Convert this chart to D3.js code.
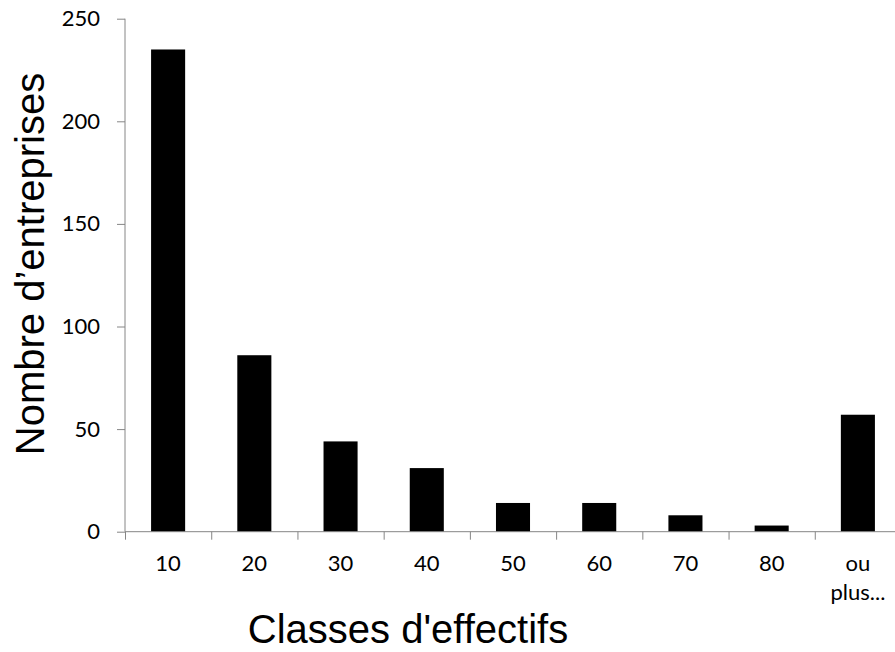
<!DOCTYPE html>
<html>
<head>
<meta charset="utf-8">
<script src="https://cdn.jsdelivr.net/npm/d3@7"></script>
<style>
  html, body { margin: 0; padding: 0; background: #fff; }
  svg { display: block; }
</style>
</head>
<body>
<svg id="chart" width="895" height="652"></svg>
<script>
const categories = ["10", "20", "30", "40", "50", "60", "70", "80", "ou plus..."];
const values = [235, 86, 44, 31, 14, 14, 8, 3, 57];
const yTicks = [0, 50, 100, 150, 200, 250];
const xTitle = "Classes d'effectifs";
const yTitle = "Nombre d\u2019entreprises";

(function () {
const svg = d3.select("#chart");
const mLeft = 125, mRight = 901, mTop = 18.7, mBottom = 531.7;
const axisColor = "#868686";
const tickFont = "Lato, 'Open Sans', sans-serif";

const p = 0.605;
const x = d3.scaleBand().domain(categories).range([mLeft, mRight]).paddingInner(p).paddingOuter(p / 2);
const xb = d3.scaleLinear().domain([0, categories.length]).range([mLeft, mRight]);
const y = d3.scaleLinear().domain([0, 250]).range([mBottom, mTop]);

// bars
svg.append("g").selectAll("rect").data(values).join("rect")
  .attr("x", (d, i) => x(categories[i]))
  .attr("width", x.bandwidth())
  .attr("y", d => y(d))
  .attr("height", d => y(0) - y(d))
  .attr("fill", "#000");

// y axis
const yAxis = svg.append("g").attr("transform", `translate(${mLeft},0)`)
  .call(d3.axisLeft(y).tickValues(yTicks).tickSize(8).tickPadding(17).tickFormat(d3.format("d")));
yAxis.select(".domain").attr("stroke", axisColor).attr("d", `M0,${mTop}V${mBottom}`);
yAxis.selectAll(".tick line").attr("stroke", axisColor);
yAxis.selectAll(".tick text").attr("font-family", tickFont).attr("font-size", 22).attr("fill", "#000");

// x axis ticks at band boundaries
const xAxisTicks = svg.append("g").attr("transform", `translate(0,${mBottom})`)
  .call(d3.axisBottom(xb).tickValues(d3.range(categories.length + 1)).tickSize(8).tickFormat(""));
xAxisTicks.select(".domain").attr("stroke", axisColor).attr("d", `M${mLeft},0H${mRight}`);
xAxisTicks.selectAll(".tick line").attr("stroke", axisColor);

// x axis labels
const xAxis = svg.append("g").attr("transform", `translate(0,${mBottom})`)
  .call(d3.axisBottom(x).tickSize(0).tickPadding(24));
xAxis.select(".domain").remove();
xAxis.selectAll(".tick text")
  .attr("font-family", tickFont).attr("font-size", 22).attr("fill", "#000")
  .each(function(d) {
    const t = d3.select(this);
    const words = d.split(" ");
    if (words.length > 1) {
      t.text(null);
      words.forEach((w, i) => {
        t.append("tspan").attr("x", 0).attr("dy", i === 0 ? "0.71em" : "1.3em").text(w);
      });
    }
  });

// titles
svg.append("text")
  .attr("x", 408).attr("y", 643)
  .attr("text-anchor", "middle")
  .attr("font-family", "'Liberation Sans', Arial, sans-serif")
  .attr("font-size", 40)
  .text(xTitle);

svg.append("text")
  .attr("transform", "translate(44,264) rotate(-90)")
  .attr("text-anchor", "middle")
  .attr("font-family", "'Liberation Sans', Arial, sans-serif")
  .attr("font-size", 40)
  .text(yTitle);
})();
</script>
</body>
</html>
